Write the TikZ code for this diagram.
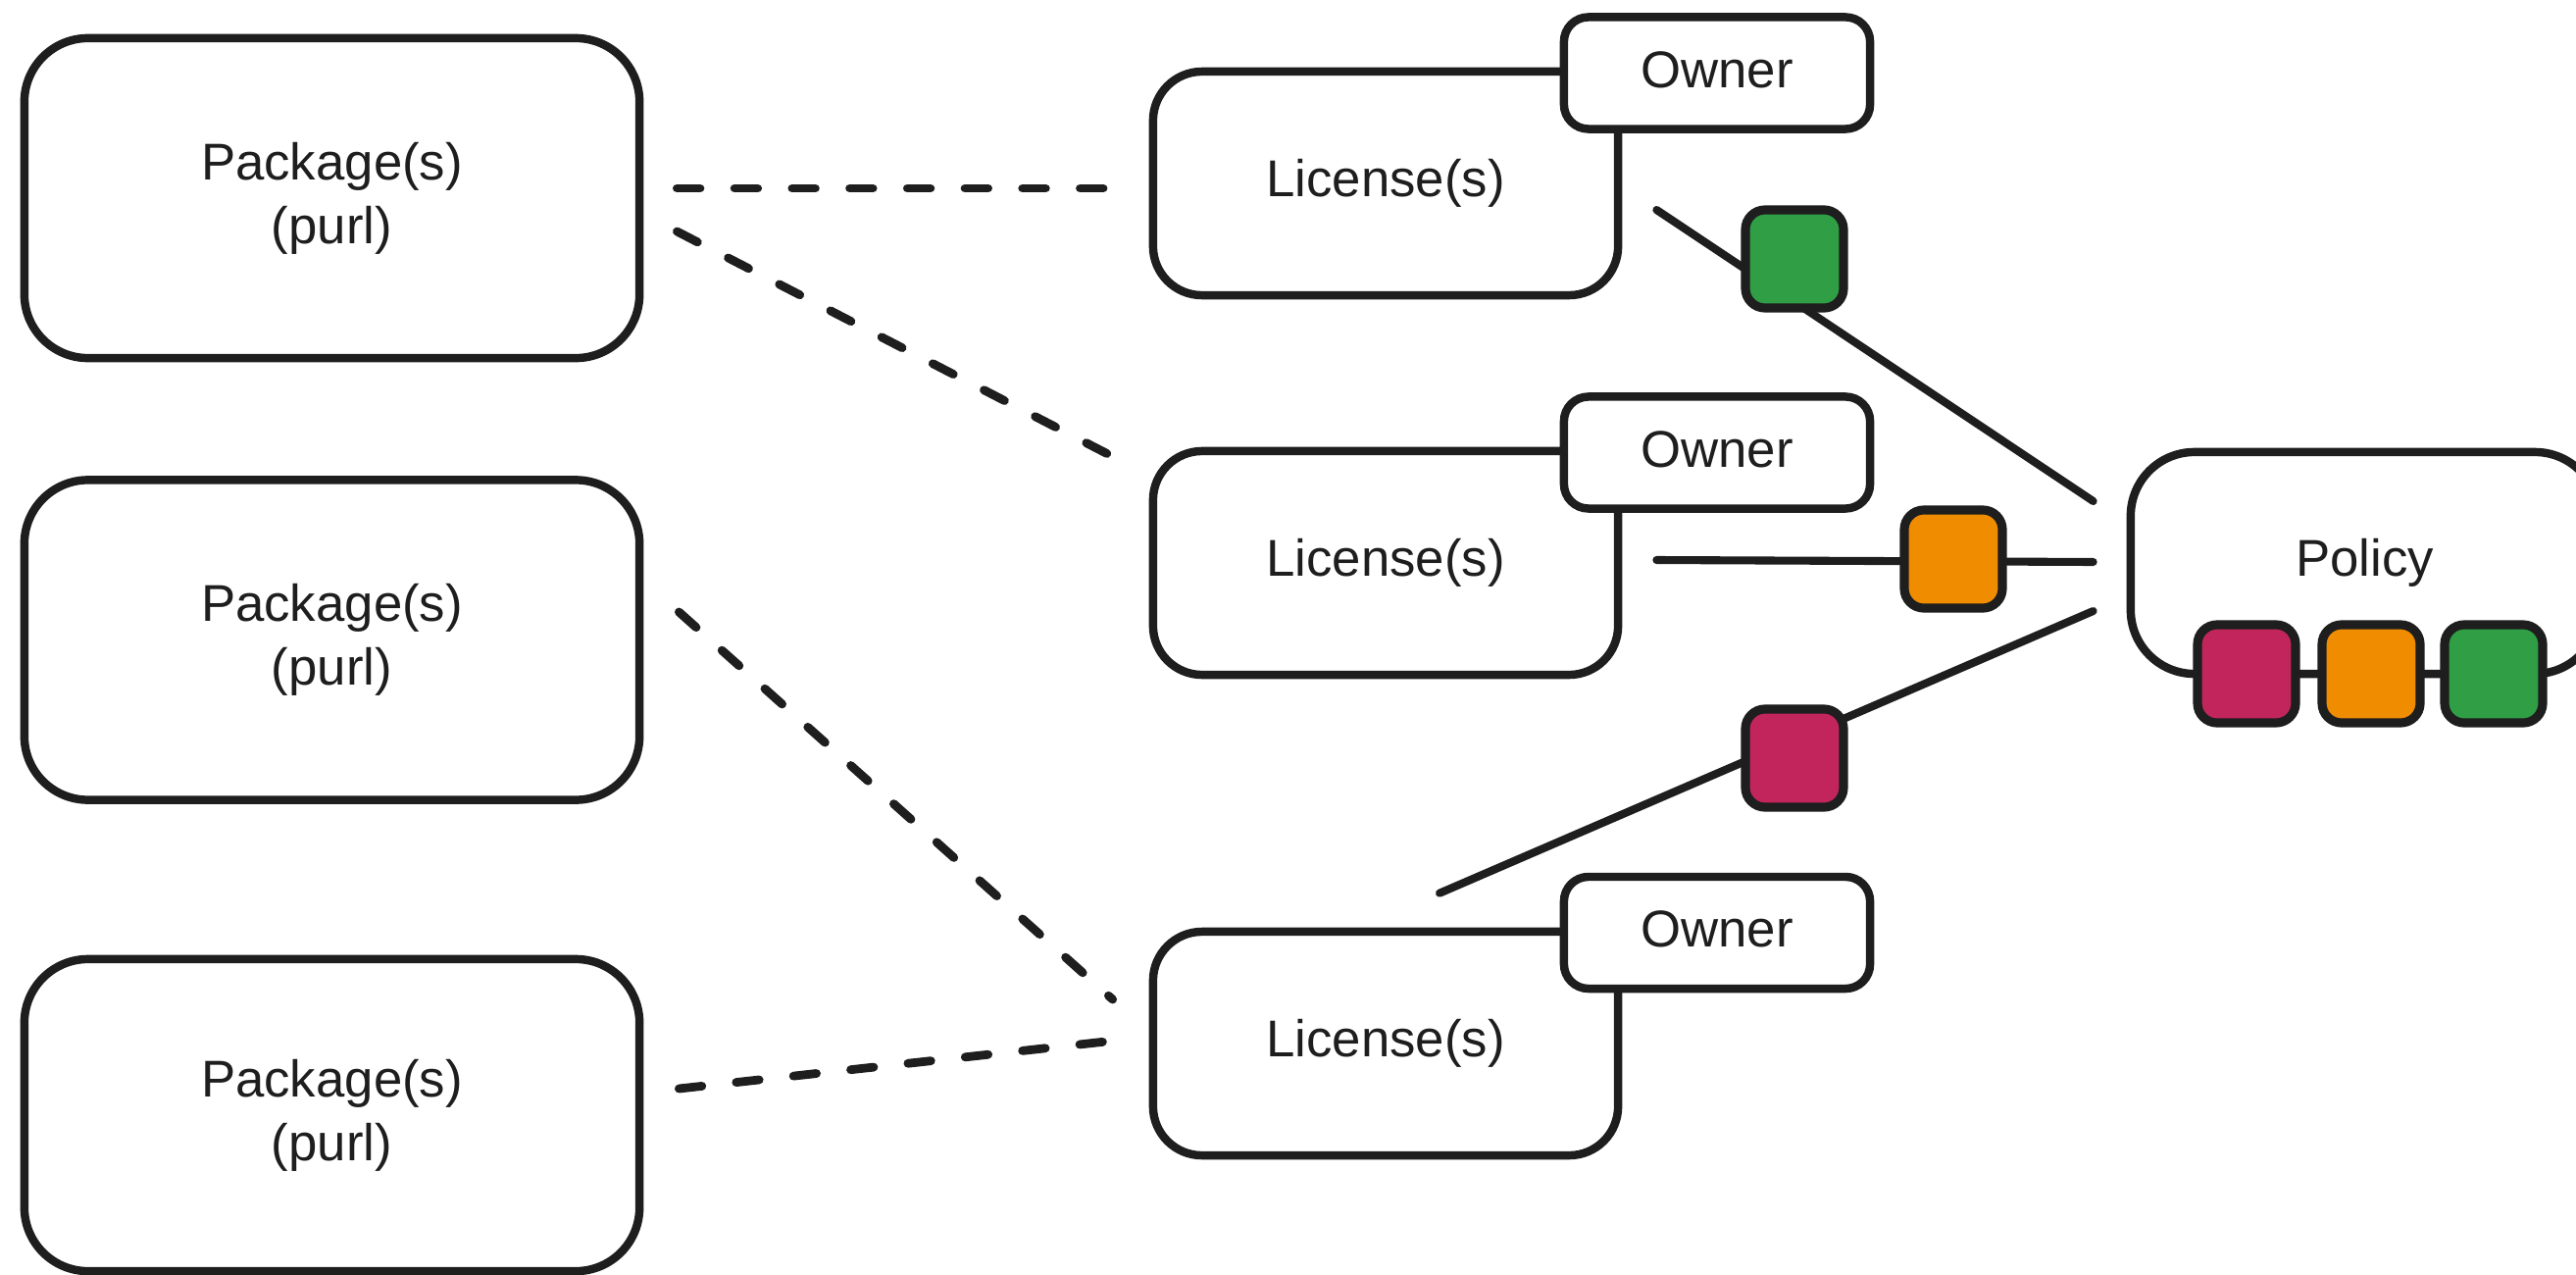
\documentclass[tikz,border=0pt]{standalone}
\usepackage{fontspec}
\setmainfont{Liberation Sans}
\usetikzlibrary{calc}
\definecolor{ink}{HTML}{1E1E1E}
\definecolor{tagred}{HTML}{C2255C}
\definecolor{tagorange}{HTML}{F08C00}
\definecolor{taggreen}{HTML}{2F9E44}

\begin{document}
\begin{tikzpicture}[x=0.01cm, y=-0.01cm,
  base/.style={draw=ink, fill=white, line width=2.4pt, inner sep=0pt, align=center,
    text=ink, font=\fontsize{15}{18.5}\selectfont},
  pkg/.style={base, rounded corners=0.65cm, minimum width=6.27cm, minimum height=3.26cm},
  lic/.style={base, rounded corners=0.5cm, minimum width=4.74cm, minimum height=2.28cm},
  owner/.style={base, rounded corners=0.25cm, minimum width=3.12cm, minimum height=1.14cm,
    text depth=0.22em},
  policy/.style={base, rounded corners=0.65cm, minimum width=4.77cm, minimum height=2.26cm},
  tag/.style={draw=ink, line width=2.6pt, rounded corners=0.2cm, minimum size=1cm, inner sep=0pt},
  link/.style={draw=ink, line width=2.3pt, line cap=round},
  dlink/.style={draw=ink, line width=2.5pt, line cap=round, dash pattern=on 6.7pt off 10pt},
]
% page frame
\useasboundingbox (0,0) rectangle (2627,1300);
\fill[white] (0,0) rectangle (2627,1300);
\clip (0,0) rectangle (2627,1300);

% packages
\node[pkg] (p1) at (338.5,202) {Package(s)\\(purl)};
\node[pkg] (p2) at (338.5,652.5) {Package(s)\\(purl)};
\node[pkg, minimum height=3.18cm] (p3) at (338.5,1137) {Package(s)\\(purl)};

% licenses with their owners
\node[lic] (l1) at (1413,187) {License(s)};
\node[owner] (o1) at (1751,74.5) {Owner};
\node[lic] (l2) at (1413,574) {License(s)};
\node[owner] (o2) at (1751,461.5) {Owner};
\node[lic] (l3) at (1413,1064) {License(s)};
\node[owner] (o3) at (1751,951) {Owner};

% policy
\node[policy] (pol) at (2411.5,574) {Policy};

% package -> license links
\draw[dlink] ($(p1.east)+(34,-10)$) -- ($(l1.west)+(-40,5)$);
\draw[dlink] ($(p1.east)+(34,34)$) -- ($(l2.west)+(-36,-108)$);
\draw[dlink] ($(p2.east)+(36,-28.5)$) -- ($(l3.west)+(-37,-45)$);
\draw[dlink] ($(p3.east)+(36,-27)$) -- ($(l3.west)+(-44,-2)$);

% license -> policy links
\draw[link] ($(l1.east)+(35,27)$) -- ($(pol.west)+(-34,-63)$);
\draw[link] ($(l2.east)+(35,-3)$) -- ($(pol.west)+(-34,-1)$);
\draw[link] ($(l3.north)+(55,-35)$) -- ($(pol.west)+(-34,49)$);

% status tags on the links
\node[tag, fill=taggreen] (tg) at (1830,264) {};
\node[tag, fill=tagorange] (to) at (1992,570) {};
\node[tag, fill=tagred] (tr) at (1830,773) {};

% status tags on the policy
\node[tag, fill=tagred] (pr) at (2291,687) {};
\node[tag, fill=tagorange] (po) at (2418,687) {};
\node[tag, fill=taggreen] (pg) at (2543,687) {};
\end{tikzpicture}
\end{document}
